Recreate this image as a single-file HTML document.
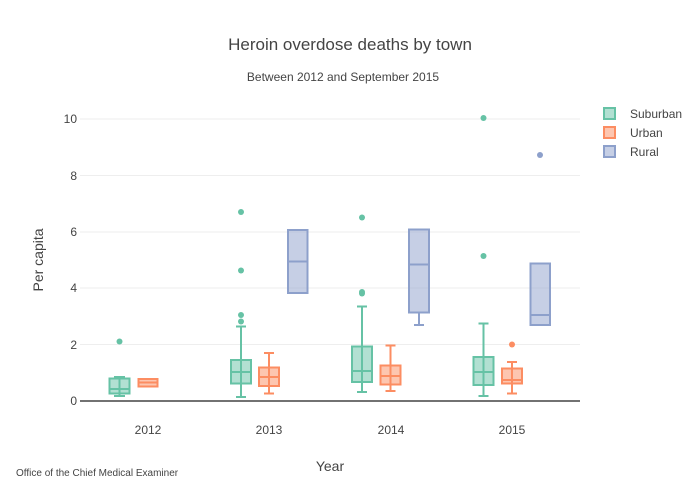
<!DOCTYPE html>
<html><head><meta charset="utf-8"><style>body{margin:0;background:#fff}svg{display:block;font-family:"Liberation Sans",sans-serif}</style></head><body>
<svg width="700" height="500" xmlns="http://www.w3.org/2000/svg">
<rect width="700" height="500" fill="#fff"/>
<g stroke="#eee" stroke-width="1">
<line x1="80" x2="580" y1="344.5" y2="344.5"/><line x1="80" x2="580" y1="288" y2="288"/><line x1="80" x2="580" y1="232" y2="232"/><line x1="80" x2="580" y1="175.5" y2="175.5"/><line x1="80" x2="580" y1="119" y2="119"/>
</g>
<line x1="80" x2="580" y1="401" y2="401" stroke="#444" stroke-width="1.5"/>
<g font-size="12" fill="#444" text-anchor="end">
<text x="77" y="405">0</text><text x="77" y="349">2</text><text x="77" y="292">4</text><text x="77" y="236">6</text><text x="77" y="180">8</text><text x="77" y="123">10</text>
</g>
<g font-size="12" fill="#444" text-anchor="middle">
<text x="148" y="434">2012</text><text x="269" y="434">2013</text><text x="391" y="434">2014</text><text x="512" y="434">2015</text>
</g>
<text x="330" y="471" font-size="14" fill="#444" text-anchor="middle">Year</text>
<text transform="translate(43,260) rotate(-90)" font-size="14" fill="#444" text-anchor="middle">Per capita</text>
<text x="350" y="50" font-size="17" fill="#444" text-anchor="middle">Heroin overdose deaths by town</text>
<text x="343" y="81" font-size="12" fill="#444" text-anchor="middle">Between 2012 and September 2015</text>
<text x="16" y="476" font-size="10" fill="#444">Office of the Chief Medical Examiner</text>
<g stroke-width="2">
<g stroke="#66c2a5" fill="rgba(102,194,165,0.5)">
<line x1="119.5" x2="119.5" y1="377" y2="396"/><line x1="114" x2="125" y1="377" y2="377"/><line x1="114" x2="125" y1="396" y2="396"/>
<rect x="109.5" y="378.5" width="20" height="15"/><line x1="109.5" x2="129.5" y1="389" y2="389"/>
<line x1="241" x2="241" y1="326.5" y2="397"/><line x1="236" x2="246" y1="326.5" y2="326.5"/><line x1="236" x2="246" y1="397" y2="397"/>
<rect x="231" y="360" width="20" height="23.5"/><line x1="231" x2="251" y1="372" y2="372"/>
<line x1="362" x2="362" y1="306.5" y2="392"/><line x1="357" x2="367" y1="306.5" y2="306.5"/><line x1="357" x2="367" y1="392" y2="392"/>
<rect x="352" y="346.5" width="20" height="35.5"/><line x1="352" x2="372" y1="371" y2="371"/>
<line x1="483.5" x2="483.5" y1="323.5" y2="396"/><line x1="478.5" x2="488.5" y1="323.5" y2="323.5"/><line x1="478.5" x2="488.5" y1="396" y2="396"/>
<rect x="473.5" y="357" width="20" height="28"/><line x1="473.5" x2="493.5" y1="372" y2="372"/>
</g>
<g fill="#66c2a5" stroke="none">
<circle cx="119.5" cy="341.5" r="3"/><circle cx="241" cy="212" r="3"/><circle cx="241" cy="270.5" r="3"/><circle cx="241" cy="315" r="3"/><circle cx="241" cy="321.5" r="3"/>
<circle cx="362" cy="217.5" r="3"/><circle cx="362" cy="292" r="3"/><circle cx="362" cy="293.5" r="3"/>
<circle cx="483.5" cy="256" r="3"/><circle cx="483.5" cy="118" r="3"/>
</g>
<g stroke="#fc8d62" fill="rgba(252,141,98,0.5)">
<rect x="138.5" y="379" width="19" height="7.5"/><line x1="138.5" x2="157.5" y1="382.5" y2="382.5"/>
<line x1="269" x2="269" y1="353" y2="393.5"/><line x1="264" x2="274" y1="353" y2="353"/><line x1="264" x2="274" y1="393.5" y2="393.5"/>
<rect x="259" y="367.5" width="20" height="18.5"/><line x1="259" x2="279" y1="377" y2="377"/>
<line x1="390.5" x2="390.5" y1="345.5" y2="391"/><line x1="385.5" x2="395.5" y1="345.5" y2="345.5"/><line x1="385.5" x2="395.5" y1="391" y2="391"/>
<rect x="380.5" y="365.5" width="20" height="19"/><line x1="380.5" x2="400.5" y1="376" y2="376"/>
<line x1="512" x2="512" y1="362" y2="393.5"/><line x1="507" x2="517" y1="362" y2="362"/><line x1="507" x2="517" y1="393.5" y2="393.5"/>
<rect x="502" y="368.5" width="20" height="15"/><line x1="502" x2="522" y1="380" y2="380"/>
</g>
<circle cx="512" cy="344.5" r="3" fill="#fc8d62"/>
<g stroke="#8da0cb" fill="rgba(141,160,203,0.5)">
<rect x="288" y="230" width="19.5" height="63"/><line x1="288" x2="307.5" y1="261.5" y2="261.5"/>
<line x1="419" x2="419" y1="312.5" y2="325"/><line x1="414" x2="424" y1="325" y2="325"/>
<rect x="409" y="229.5" width="20" height="83"/><line x1="409" x2="429" y1="264.5" y2="264.5"/>
<rect x="530.5" y="263.5" width="19.5" height="61.5"/><line x1="530.5" x2="550" y1="315" y2="315"/>
</g>
<circle cx="540" cy="155" r="3" fill="#8da0cb"/>
</g>
<g stroke-width="2">
<rect x="604" y="108" width="11" height="11" stroke="#66c2a5" fill="rgba(102,194,165,0.5)"/>
<rect x="604" y="127" width="11" height="11" stroke="#fc8d62" fill="rgba(252,141,98,0.5)"/>
<rect x="604" y="146" width="11" height="11" stroke="#8da0cb" fill="rgba(141,160,203,0.5)"/>
</g>
<g font-size="12" fill="#444">
<text x="630" y="118">Suburban</text><text x="630" y="137">Urban</text><text x="630" y="156">Rural</text>
</g>
</svg>
</body></html>
